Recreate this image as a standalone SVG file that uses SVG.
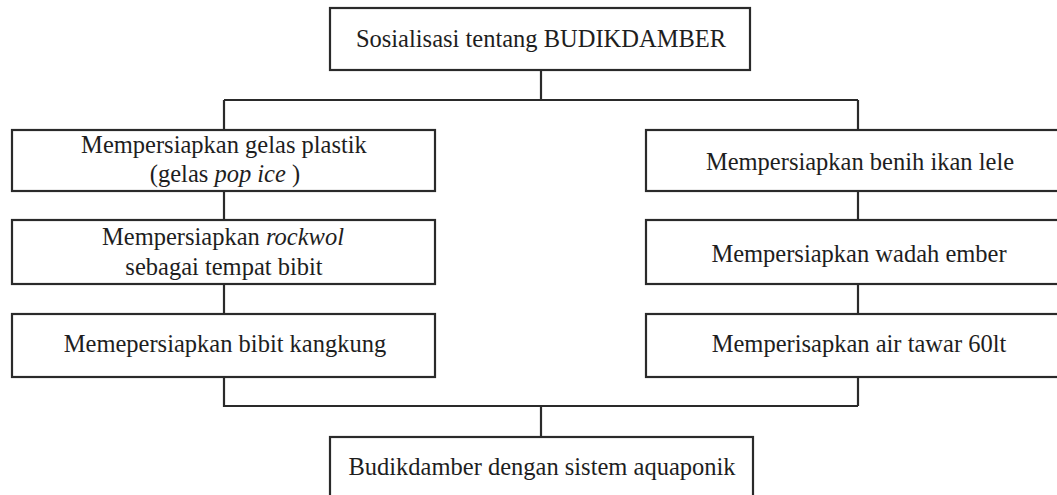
<svg xmlns="http://www.w3.org/2000/svg" width="1057" height="495" viewBox="0 0 1057 495">
<style>
.box{fill:#fff;stroke:#2a2a2a;stroke-width:2.2}
.ln{fill:none;stroke:#2a2a2a;stroke-width:2.2}
.t{font-family:"Liberation Serif","Times New Roman",serif;font-size:24.5px;fill:#1e1e1e;text-anchor:middle}
.i{font-style:italic}
</style>
<rect width="1057" height="495" fill="#fff"/>
<g id="connectors">
<path class="ln" d="M541,70 V100 M224,100 H858 M224,100 V130 M858,100 V130"/>
<path class="ln" d="M224,191 V220 M224,284 V314 M858,191 V220 M858,284 V314"/>
<path class="ln" d="M224,377 V406 H858 M858,377 V406 M541,406 V437"/>
</g>
<g id="top">
<rect class="box" x="330" y="8" width="420" height="62"/>
<text class="t" x="541" y="47">Sosialisasi tentang BUDIKDAMBER</text>
</g>
<g id="l1">
<rect class="box" x="12" y="130" width="423" height="61"/>
<text class="t" x="224" y="153">Mempersiapkan gelas plastik</text>
<text class="t" x="225" y="182">(gelas <tspan class="i">pop ice</tspan> )</text>
</g>
<g id="l2">
<rect class="box" x="12" y="220" width="423" height="64"/>
<text class="t" x="223" y="245">Mempersiapkan <tspan class="i">rockwol</tspan></text>
<text class="t" x="224" y="275">sebagai tempat bibit</text>
</g>
<g id="l3">
<rect class="box" x="12" y="314" width="423" height="63"/>
<text class="t" x="225" y="352">Memepersiapkan bibit kangkung</text>
</g>
<g id="r1">
<rect class="box" x="646" y="130" width="430" height="61"/>
<text class="t" x="860" y="170">Mempersiapkan benih ikan lele</text>
</g>
<g id="r2">
<rect class="box" x="646" y="220" width="430" height="64"/>
<text class="t" x="859" y="262">Mempersiapkan wadah ember</text>
</g>
<g id="r3">
<rect class="box" x="646" y="314" width="430" height="63"/>
<text class="t" x="859" y="352">Memperisapkan air tawar 60lt</text>
</g>
<g id="bottom">
<rect class="box" x="330" y="437" width="423" height="70"/>
<text class="t" x="542" y="475">Budikdamber dengan sistem aquaponik</text>
</g>
</svg>
